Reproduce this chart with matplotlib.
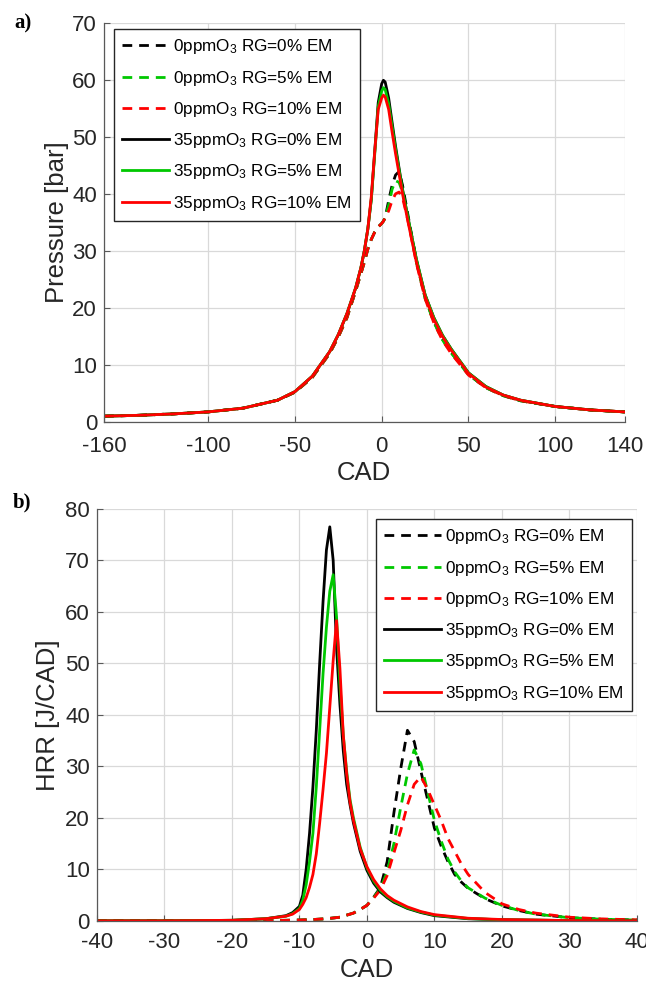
import numpy as np
import matplotlib
matplotlib.use("Agg")
import matplotlib.pyplot as plt

plt.rcParams['font.family'] = ['Liberation Sans', 'DejaVu Sans']
plt.rcParams['mathtext.fontset'] = 'custom'
plt.rcParams['mathtext.rm'] = 'Liberation Sans'
plt.rcParams['mathtext.it'] = 'Liberation Sans'
plt.rcParams['axes.unicode_minus'] = False

# ---- data: a) in-cylinder pressure ----
cad_p = [-160, -140, -120, -100, -80, -60, -50, -40, -30, -25, -20, -15, -12, -10, -8, -6, -4, -2,
         0, 1, 2, 4, 6, 8, 10, 12, 15, 20, 25, 30, 35, 40, 50, 60, 70, 80, 100, 120, 140]

p_0ppm_rg0 = [1.0, 1.15, 1.4, 1.75, 2.4, 3.8, 5.2, 7.8, 12.0, 14.9, 18.3, 23.0, 26.0, 28.0, 30.3, 32.0, 33.3, 34.2,
              34.8, 35.2, 35.8, 38.8, 41.5, 43.3, 43.9, 41.5, 36.5, 28.2, 21.8, 17.6, 14.5, 12.2, 8.3, 6.0, 4.6, 3.7, 2.7, 2.1, 1.75]
p_0ppm_rg5 = [1.0, 1.15, 1.4, 1.75, 2.4, 3.8, 5.2, 7.8, 12.0, 14.9, 18.3, 23.0, 26.0, 28.0, 30.3, 32.0, 33.3, 34.2,
              34.8, 35.2, 35.8, 38.0, 40.8, 42.3, 42.0, 40.3, 36.0, 28.0, 21.7, 17.5, 14.4, 12.1, 8.3, 6.0, 4.6, 3.7, 2.7, 2.1, 1.75]
p_0ppm_rg10 = [1.0, 1.15, 1.4, 1.75, 2.4, 3.8, 5.2, 7.8, 12.0, 14.9, 18.3, 23.0, 26.0, 28.0, 30.3, 32.0, 33.3, 34.2,
               34.8, 35.2, 35.8, 37.0, 38.8, 40.0, 40.3, 39.3, 35.5, 27.8, 21.6, 17.4, 14.3, 12.0, 8.2, 6.0, 4.6, 3.7, 2.7, 2.1, 1.75]
p_35ppm_rg0 = [1.0, 1.15, 1.4, 1.75, 2.4, 3.8, 5.3, 8.0, 12.3, 15.3, 19.0, 23.5, 27.0, 30.0, 33.8, 39.0, 47.5, 56.0,
               59.3, 59.9, 59.6, 56.8, 52.5, 48.3, 44.5, 40.8, 36.0, 28.5, 22.3, 18.3, 15.2, 12.8, 8.6, 6.2, 4.7, 3.8, 2.7, 2.1, 1.75]
p_35ppm_rg5 = [1.0, 1.15, 1.4, 1.75, 2.4, 3.8, 5.3, 8.0, 12.3, 15.3, 19.0, 23.5, 27.0, 30.0, 33.8, 39.0, 47.0, 55.3,
               58.0, 58.6, 58.3, 55.8, 51.8, 47.8, 44.2, 40.6, 36.0, 28.5, 22.3, 18.3, 15.2, 12.8, 8.6, 6.2, 4.7, 3.8, 2.7, 2.1, 1.75]
p_35ppm_rg10 = [1.0, 1.15, 1.4, 1.75, 2.4, 3.8, 5.3, 8.0, 12.3, 15.3, 19.0, 23.5, 27.0, 30.0, 33.8, 39.5, 47.5, 54.8,
                56.8, 57.3, 57.0, 54.8, 50.8, 47.0, 43.5, 40.0, 35.3, 28.0, 22.0, 18.0, 15.0, 12.6, 8.5, 6.1, 4.7, 3.8, 2.7, 2.1, 1.75]

# ---- data: b) heat release rate ----
cad_h_solid = [-40, -30, -20, -15, -12, -11, -10, -9.5, -9, -8.5, -8, -7.5, -7, -6.5, -6, -5.5, -5, -4.5,
               -4, -3.5, -3, -2.5, -2, -1, 0, 1, 2, 3, 4, 6, 8, 10, 15, 20, 30, 40]
hrr_35ppm_rg0 = [0, 0, 0.1, 0.4, 1.0, 1.6, 2.8, 5.0, 10.0, 17.0, 26.0, 37.0, 50.0, 62.0, 72.0, 76.5, 70.0, 53.0,
                 42.0, 33.0, 26.5, 22.5, 19.0, 13.5, 9.8, 7.3, 5.6, 4.5, 3.6, 2.4, 1.6, 1.0, 0.4, 0.2, 0.05, 0]
hrr_35ppm_rg5 = [0, 0, 0.1, 0.4, 0.9, 1.4, 2.4, 4.0, 7.0, 11.5, 17.0, 26.0, 37.0, 48.0, 57.0, 64.0, 67.2, 59.0,
                 46.0, 36.0, 29.0, 23.5, 20.0, 14.3, 10.3, 7.7, 5.9, 4.7, 3.8, 2.5, 1.7, 1.1, 0.45, 0.2, 0.05, 0]
hrr_35ppm_rg10 = [0, 0, 0.1, 0.4, 0.9, 1.3, 2.2, 3.2, 4.5, 6.5, 9.0, 13.0, 19.0, 25.5, 32.5, 41.5, 50.5, 58.3,
                  49.0, 36.0, 28.5, 23.0, 19.5, 14.0, 10.5, 8.0, 6.2, 4.9, 4.0, 2.7, 1.8, 1.2, 0.5, 0.25, 0.05, 0]

cad_h_dash = [-40, -30, -20, -15, -12, -10, -8, -6, -4, -2, -1, 0, 1, 2, 3, 4, 5, 6, 7, 8, 9, 10,
              11, 12, 13, 14, 15, 17.5, 20, 22.5, 25, 30, 35, 40]
hrr_0ppm_rg0 = [0, 0, 0, 0.05, 0.1, 0.15, 0.25, 0.4, 0.7, 1.5, 2.2, 3.0, 4.6, 6.5, 11.5, 21.0, 29.5, 37.0, 34.8, 29.0, 23.5, 18.0,
                14.5, 11.5, 9.0, 7.5, 6.3, 4.3, 2.9, 2.0, 1.3, 0.6, 0.3, 0.15]
hrr_0ppm_rg5 = [0, 0, 0, 0.05, 0.1, 0.15, 0.25, 0.4, 0.7, 1.5, 2.2, 3.0, 4.5, 6.3, 9.5, 15.0, 22.0, 28.5, 33.2, 30.5, 25.0, 19.5,
                15.5, 12.0, 9.5, 7.7, 6.4, 4.4, 3.0, 2.0, 1.3, 0.6, 0.3, 0.15]
hrr_0ppm_rg10 = [0, 0, 0, 0.05, 0.1, 0.15, 0.25, 0.4, 0.7, 1.5, 2.2, 3.0, 4.4, 6.0, 8.8, 13.2, 17.5, 22.5, 26.5, 28.0, 25.5, 22.5,
                 19.5, 16.0, 13.5, 11.0, 9.0, 5.5, 3.3, 2.2, 1.5, 0.7, 0.35, 0.2]

labels = [r'0ppmO$_3$ RG=0% EM', r'0ppmO$_3$ RG=5% EM', r'0ppmO$_3$ RG=10% EM',
          r'35ppmO$_3$ RG=0% EM', r'35ppmO$_3$ RG=5% EM', r'35ppmO$_3$ RG=10% EM']
colors = ['black', '#00C800', '#FF0000']

fig = plt.figure(figsize=(6.46, 9.88), dpi=100)
ax1 = fig.add_axes([0.161, 0.573, 0.806, 0.404])
ax2 = fig.add_axes([0.150, 0.068, 0.836, 0.417])

dash = (3.5, 2.5)
lw = 2.0


def style(ax, xpad):
    ax.grid(True, color='0.85', lw=0.9)
    ax.set_axisbelow(True)
    for s in ['top', 'right']:
        ax.spines[s].set_visible(False)
    for s in ['left', 'bottom']:
        ax.spines[s].set_color('0.35')
        ax.spines[s].set_linewidth(0.9)
    ax.tick_params(direction='in', length=4, width=0.8, color='0.35',
                   labelsize=16, labelcolor='0.15', pad=5)
    ax.tick_params(axis='x', pad=xpad)


def add_legend(ax, hl, **kw):
    ax.legend(borderaxespad=0, fontsize=12.3, fancybox=False, edgecolor='0.15',
              framealpha=1, handlelength=hl, labelspacing=0.72, borderpad=0.5,
              handletextpad=0.25, **kw)


# a) pressure
for y, c, lab in zip([p_0ppm_rg0, p_0ppm_rg5, p_0ppm_rg10], colors, labels[:3]):
    ax1.plot(cad_p, y, color=c, lw=lw, dashes=dash, label=lab)
for y, c, lab in zip([p_35ppm_rg0, p_35ppm_rg5, p_35ppm_rg10], colors, labels[3:]):
    ax1.plot(cad_p, y, color=c, lw=lw, label=lab)
ax1.set_xlim(-160, 140)
ax1.set_ylim(0, 70)
ax1.set_xticks([-160, -100, -50, 0, 50, 100, 140])
ax1.set_yticks(np.arange(0, 71, 10))
style(ax1, 10)
ax1.set_xlabel('CAD', fontsize=18.5, color='0.15', labelpad=3)
ax1.set_ylabel('Pressure [bar]', fontsize=18.5, color='0.15', labelpad=2)
add_legend(ax1, 2.7, loc='upper left', bbox_to_anchor=(0.019, 0.985))

# b) heat release rate
for y, c, lab in zip([hrr_0ppm_rg0, hrr_0ppm_rg5, hrr_0ppm_rg10], colors, labels[:3]):
    ax2.plot(cad_h_dash, y, color=c, lw=lw, dashes=dash, label=lab)
for y, c, lab in zip([hrr_35ppm_rg0, hrr_35ppm_rg5, hrr_35ppm_rg10], colors, labels[3:]):
    ax2.plot(cad_h_solid, y, color=c, lw=lw, label=lab)
ax2.set_xlim(-40, 40)
ax2.set_ylim(0, 80)
ax2.set_xticks(np.arange(-40, 41, 10))
ax2.set_yticks(np.arange(0, 81, 10))
style(ax2, 8)
ax2.set_xlabel('CAD', fontsize=18.5, color='0.15', labelpad=4)
ax2.set_ylabel('HRR [J/CAD]', fontsize=18.5, color='0.15', labelpad=4)
add_legend(ax2, 3.3, loc='upper right', bbox_to_anchor=(0.991, 0.976))

fig.text(0.022, 0.986, 'a)', family='Liberation Serif', fontweight='bold', fontsize=15, va='top')
fig.text(0.019, 0.502, 'b)', family='Liberation Serif', fontweight='bold', fontsize=15, va='top')

fig.savefig('out.png', dpi=100)
